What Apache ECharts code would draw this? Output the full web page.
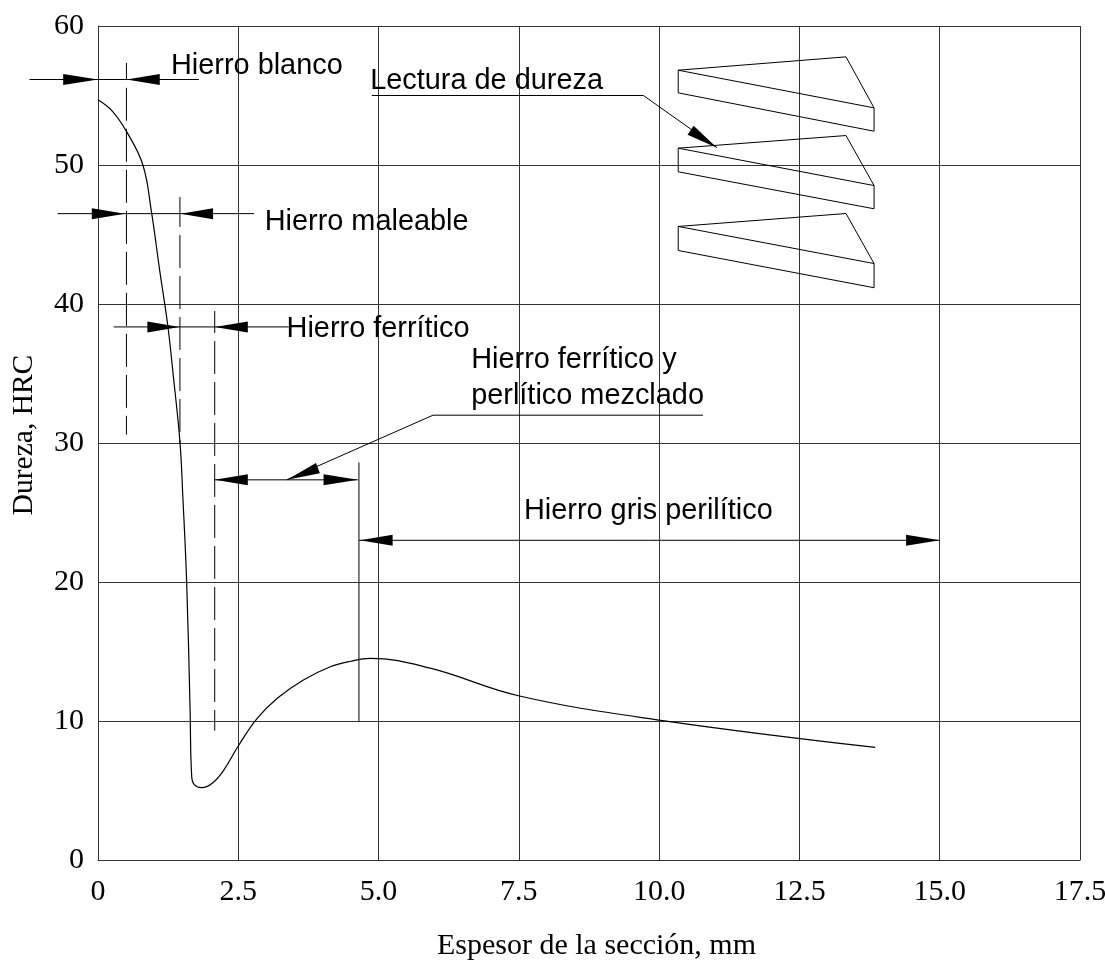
<!DOCTYPE html>
<html><head><meta charset="utf-8">
<style>html,body{margin:0;padding:0;background:#fff}#c{width:1105px;height:961px}</style>
<script src="https://cdn.jsdelivr.net/npm/echarts@6/dist/echarts.min.js"></script>
</head><body><div id="c"></div>
<script>
const xTickLabels = ['0','2.5','5.0','7.5','10.0','12.5','15.0','17.5'];
const yTickLabels = ['0','10','20','30','40','50','60'];
const curve = [[0,54.7],[0.25,53.9],[0.51,52.4],[0.80,50.0],[0.95,46.7],[1.10,42.4],[1.245,38.4],[1.335,35.1],[1.46,30.1],[1.51,26.3],[1.58,20.0],[1.64,11],[1.67,6.0],[1.72,5.4],[1.85,5.2],[2.03,5.5],[2.23,6.4],[2.50,8.2],[2.83,10.15],[3.2,11.65],[3.66,12.95],[4.14,13.9],[4.5,14.3],[4.85,14.5],[5.92,13.8],[7.51,11.8],[10.03,10.05],[13.85,8.1]];
const dashedGuides = [
  [[0.507,57.35],[0.507,30.6]],
  [[1.46,47.7],[1.46,30.0]],
  [[2.08,39.5],[2.08,9.3]]
];
const solidLines = [
  [[-1.22,56.15],[1.8,56.15]],
  [[-0.72,46.5],[2.78,46.5]],
  [[0.28,38.35],[3.4,38.35]],
  [[2.08,27.35],[4.63,27.35]],
  [[4.65,23.0],[15.0,23.0]],
  [[4.65,28.6],[4.65,10.0]],
  [[3.36,27.35],[5.97,32.0],[10.78,32.0]],
  [[4.88,55.0],[9.72,55.0],[11.03,51.25]],
  [[10.34,56.82],[13.33,57.78],[13.83,54.11],[10.34,56.82],[10.34,55.19],[13.83,52.43],[13.83,54.11]],
  [[10.34,51.21],[13.33,52.12],[13.83,48.52],[10.34,51.21],[10.34,49.51],[13.83,46.85],[13.83,48.52]],
  [[10.34,45.58],[13.33,46.51],[13.83,42.91],[10.34,45.58],[10.34,43.85],[13.83,41.17],[13.83,42.91]]
];
// arrowheads: tip x, tip y, base x, base y
const arrowHeads = [
  [0,56.15,-0.62,56.15],[0.51,56.15,1.1,56.15],
  [0.48,46.5,-0.11,46.5],[1.47,46.5,2.05,46.5],
  [1.45,38.35,0.88,38.35],[2.08,38.35,2.67,38.35],
  [2.08,27.35,2.67,27.35],[4.63,27.35,4.02,27.35],
  [4.67,23.0,5.25,23.0],[15.0,23.0,14.4,23.0],
  [3.37,27.35,3.92,28.2],
  [11.03,51.25,10.56,52.5]
];
const labelTexts = ['Hierro blanco','Lectura de dureza','Hierro maleable','Hierro ferrítico','Hierro ferrítico y','perlítico mezclado','Hierro gris perilítico'];
const labelPositions = [[1.30,57.12],[4.85,56.05],[2.97,45.92],[3.36,38.22],[6.65,35.97],[6.65,33.4],[7.59,25.12]];

const dashPhases = [16,3,11];
function polySeries(lines, width, dash, phases){
  return {type:'custom',silent:true,animation:false,clip:false,z:3,
    data:lines.map((l,i)=>[l[0][0],l[0][1],i]),encode:{x:0,y:1},
    renderItem(p,api){
      return {type:'polyline',shape:{points:lines[p.dataIndex].map(q=>api.coord(q))},
        style:{stroke:'#000',lineWidth:width,fill:null,lineDash:dash||null,lineDashOffset:phases?phases[p.dataIndex]:0}};
    }};
}
const series = [];
series.push({type:'line',data:curve,symbol:'none',silent:true,clip:false,smooth:0.4,
  lineStyle:{color:'#000',width:1.2},z:3});
series.push(polySeries(dashedGuides,1,[33,8],dashPhases));
series.push(polySeries(solidLines,1));
series.push({type:'custom',silent:true,animation:false,clip:false,z:4,data:arrowHeads,
  encode:{x:[0,2],y:[1,3]},
  renderItem(p,api){
    const t=api.coord([api.value(0),api.value(1)]), b=api.coord([api.value(2),api.value(3)]);
    const dx=b[0]-t[0],dy=b[1]-t[1],l=Math.hypot(dx,dy),hw=5.5;
    const nx=-dy/l*hw,ny=dx/l*hw;
    return {type:'polygon',shape:{points:[t,[b[0]+nx,b[1]+ny],[b[0]-nx,b[1]-ny]]},style:{fill:'#000'}};
  }});
series.push({type:'custom',silent:true,animation:false,clip:false,z:5,
  data:labelPositions.map((p,i)=>[p[0],p[1],i]),
  encode:{x:0,y:1},
  renderItem(p,api){
    const c=api.coord([api.value(0),api.value(1)]);
    return {type:'text',x:c[0],y:c[1],style:{text:labelTexts[p.dataIndex],fill:'#000',
      font:'28.9px "Liberation Sans"',textAlign:'left',textVerticalAlign:'middle'}};
  }});
const chart=echarts.init(document.getElementById('c'),null,{renderer:'canvas'});
const grid='#333';
chart.setOption({
  animation:false,backgroundColor:'#fff',
  grid:{left:98,right:25,top:26,bottom:101,containLabel:false,outerBoundsMode:'none',show:false},
  xAxis:{type:'value',min:0,max:17.5,interval:2.5,name:'Espesor de la sección, mm',nameLocation:'middle',nameGap:71,
    nameTextStyle:{fontFamily:'Liberation Serif',fontSize:30,color:'#000',padding:[0,0,0,15]},
    axisLine:{show:true,onZero:false,lineStyle:{color:grid,width:1}},axisTick:{show:false},
    axisLabel:{fontFamily:'Liberation Serif',fontSize:30,color:'#000',margin:17,formatter:(v,i)=>xTickLabels[i],showMinLabel:true,showMaxLabel:true},
    splitLine:{show:true,lineStyle:{color:grid,width:1}}},
  yAxis:{type:'value',min:0,max:60,interval:10,name:'Dureza, HRC',nameLocation:'middle',nameGap:59,
    nameTextStyle:{fontFamily:'Liberation Serif',fontSize:29.5,color:'#000',padding:[0,0,0,16]},
    axisLine:{show:true,onZero:false,lineStyle:{color:grid,width:1}},axisTick:{show:false},
    axisLabel:{fontFamily:'Liberation Serif',fontSize:30,color:'#000',margin:14,padding:[0,0,6,0],formatter:(v,i)=>yTickLabels[i],showMinLabel:true,showMaxLabel:true},
    splitLine:{show:true,lineStyle:{color:grid,width:1}}},
  series
});
</script></body></html>
